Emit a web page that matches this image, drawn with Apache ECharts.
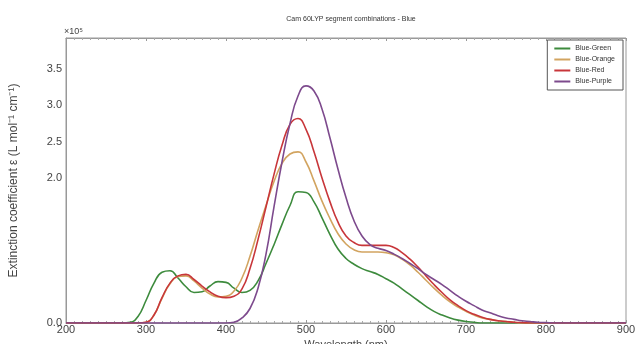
<!DOCTYPE html>
<html>
<head>
<meta charset="utf-8">
<script src="https://cdn.jsdelivr.net/npm/echarts@6/dist/echarts.min.js"></script>
<style>
  html, body { margin: 0; padding: 0; background: #fff; }
  #chart { width: 644px; height: 344px; }
</style>
</head>
<body>
<div id="chart"></div>
<script>
// wavelength grid (nm), 10 nm steps
const wavelengths = [];
for (let w = 200; w <= 900; w += 10) wavelengths.push(w);

// values in units of 1e5 L mol^-1 cm^-1, 200..900 nm
const blueGreen = [
  0, 0, 0, 0, 0, 0, 0, 0, 0.01, 0.09,          // 200-290
  0.31, 0.55, 0.70, 0.72, 0.62, 0.50, 0.42, 0.43, 0.51, 0.57, // 300-390
  0.56, 0.48, 0.42, 0.45, 0.58, 0.82, 1.08, 1.36, 1.62, 1.81, // 400-490
  1.80, 1.67, 1.45, 1.22, 1.02, 0.89, 0.81, 0.75, 0.71, 0.67, // 500-590
  0.61, 0.55, 0.47, 0.39, 0.31, 0.23, 0.16, 0.11, 0.07, 0.04, // 600-690
  0.02, 0.01, 0, 0, 0, 0, 0, 0, 0, 0,         // 700-790
  0, 0, 0, 0, 0, 0, 0, 0, 0, 0, 0             // 800-900
];
const blueOrange = [
  0, 0, 0, 0, 0, 0, 0, 0, 0, 0,
  0.01, 0.11, 0.34, 0.54, 0.64, 0.65, 0.58, 0.48, 0.40, 0.36,
  0.37, 0.44, 0.62, 0.92, 1.28, 1.62, 1.95, 2.20, 2.33, 2.36,
  2.22, 1.96, 1.68, 1.44, 1.23, 1.09, 1.01, 0.98, 0.98, 0.98,
  0.97, 0.94, 0.88, 0.80, 0.70, 0.59, 0.48, 0.38, 0.29, 0.22,
  0.16, 0.11, 0.07, 0.05, 0.03, 0.02, 0.01, 0, 0, 0,
  0, 0, 0, 0, 0, 0, 0, 0, 0, 0, 0
];
const blueRed = [
  0, 0, 0, 0, 0, 0, 0, 0, 0, 0,
  0.01, 0.11, 0.35, 0.55, 0.65, 0.67, 0.60, 0.51, 0.43, 0.37,
  0.35, 0.37, 0.47, 0.75, 1.15, 1.60, 2.05, 2.45, 2.74, 2.82,
  2.67, 2.36, 2.00, 1.67, 1.39, 1.20, 1.11, 1.07, 1.07, 1.07,
  1.07, 1.04, 0.97, 0.88, 0.77, 0.65, 0.53, 0.42, 0.32, 0.24,
  0.17, 0.12, 0.08, 0.05, 0.03, 0.02, 0.01, 0.005, 0, 0,
  0, 0, 0, 0, 0, 0, 0, 0, 0, 0, 0
];
const bluePurple = [
  0, 0, 0, 0, 0, 0, 0, 0, 0, 0,
  0, 0, 0, 0, 0, 0, 0, 0, 0, 0,
  0, 0.01, 0.07, 0.20, 0.48, 0.95, 1.60, 2.22, 2.75, 3.13,
  3.27, 3.20, 2.95, 2.55, 2.12, 1.73, 1.41, 1.20, 1.08, 1.03,
  1.00, 0.95, 0.89, 0.82, 0.75, 0.67, 0.60, 0.53, 0.45, 0.37,
  0.30, 0.24, 0.18, 0.14, 0.10, 0.07, 0.05, 0.03, 0.02, 0.01,
  0.005, 0, 0, 0, 0, 0, 0, 0, 0, 0, 0
];

const seriesNames = ["Blue-Green", "Blue-Orange", "Blue-Red", "Blue-Purple"];
const seriesColors = ["#3d8b3d", "#d2a460", "#c8363a", "#7d4a8d"];
const seriesValues = [blueGreen, blueOrange, blueRed, bluePurple];
const yTickLabels = ["0.0", "2.0", "2.5", "3.0", "3.5"];

const chart = echarts.init(document.getElementById("chart"));
const labelFont = { color: "#444", fontFamily: "Liberation Sans, Arial, sans-serif", fontSize: 11 };

const option = {
  animation: false,
  title: {
    text: "Cam 60LYP segment combinations - Blue",
    left: 346,
    textAlign: "center",
    top: 11,
    textStyle: { fontSize: 7, fontWeight: "normal", color: "#333", fontFamily: "Liberation Sans, Arial, sans-serif" }
  },
  graphic: [{
    type: "text",
    left: 64,
    top: 27,
    style: { text: "×10⁵", fontSize: 9, fill: "#444", fontFamily: "Liberation Sans, Arial, sans-serif" }
  }],
  legend: {
    orient: "vertical",
    right: 21,
    top: 40,
    data: seriesNames,
    icon: "rect",
    itemWidth: 16,
    itemHeight: 2,
    itemGap: 4,
    padding: [5, 8, 5, 7],
    borderColor: "#555",
    borderWidth: 1,
    backgroundColor: "#fff",
    textStyle: { fontSize: 7, color: "#333", fontFamily: "Liberation Sans, Arial, sans-serif" }
  },
  grid: {
    left: 66, right: 18, top: 38, bottom: 21,
    outerBoundsMode: "none",
    show: true, borderColor: "#999", borderWidth: 1
  },
  xAxis: [{
    type: "value",
    min: 200, max: 900, interval: 100,
    name: "Wavelength (nm)",
    nameLocation: "middle",
    nameGap: 15,
    nameTextStyle: labelFont,
    axisLine: { show: true, lineStyle: { color: "#999" } },
    axisTick: { show: true, inside: true, length: 3, lineStyle: { color: "#999" } },
    minorTick: { show: true, splitNumber: 10, length: 2, lineStyle: { color: "#aaa" } },
    axisLabel: Object.assign({ margin: 1 }, labelFont),
    splitLine: { show: false }
  }, {
    type: "value",
    position: "top",
    min: 200, max: 900, interval: 100,
    axisLine: { show: true, lineStyle: { color: "#999" } },
    axisTick: { show: true, inside: true, length: 3, lineStyle: { color: "#999" } },
    minorTick: { show: true, splitNumber: 10, length: 2, lineStyle: { color: "#aaa" } },
    axisLabel: { show: false },
    splitLine: { show: false }
  }],
  yAxis: {
    type: "value",
    min: 0, max: 3.93, interval: 0.5,
    name: "Extinction coefficient ε (L mol⁻¹ cm⁻¹)",
    nameLocation: "middle",
    nameGap: 46,
    nameTextStyle: { color: "#444", fontSize: 12, fontFamily: "Liberation Sans, Arial, sans-serif" },
    axisLine: { show: true, lineStyle: { color: "#999" } },
    axisTick: { show: false },
    splitLine: { show: false },
    axisLabel: Object.assign({
      margin: 4,
      showMaxLabel: false,
      formatter: v => {
        const s = v.toFixed(1);
        return yTickLabels.indexOf(s) >= 0 ? s : "";
      }
    }, labelFont)
  },
  series: seriesNames.map((name, i) => ({
    name: name,
    type: "line",
    smooth: 0.5,
    showSymbol: false,
    color: seriesColors[i],
    lineStyle: { width: 1.6, color: seriesColors[i] },
    data: wavelengths.map((w, j) => [w, seriesValues[i][j]])
  }))
};
chart.setOption(option);
</script>
</body>
</html>
